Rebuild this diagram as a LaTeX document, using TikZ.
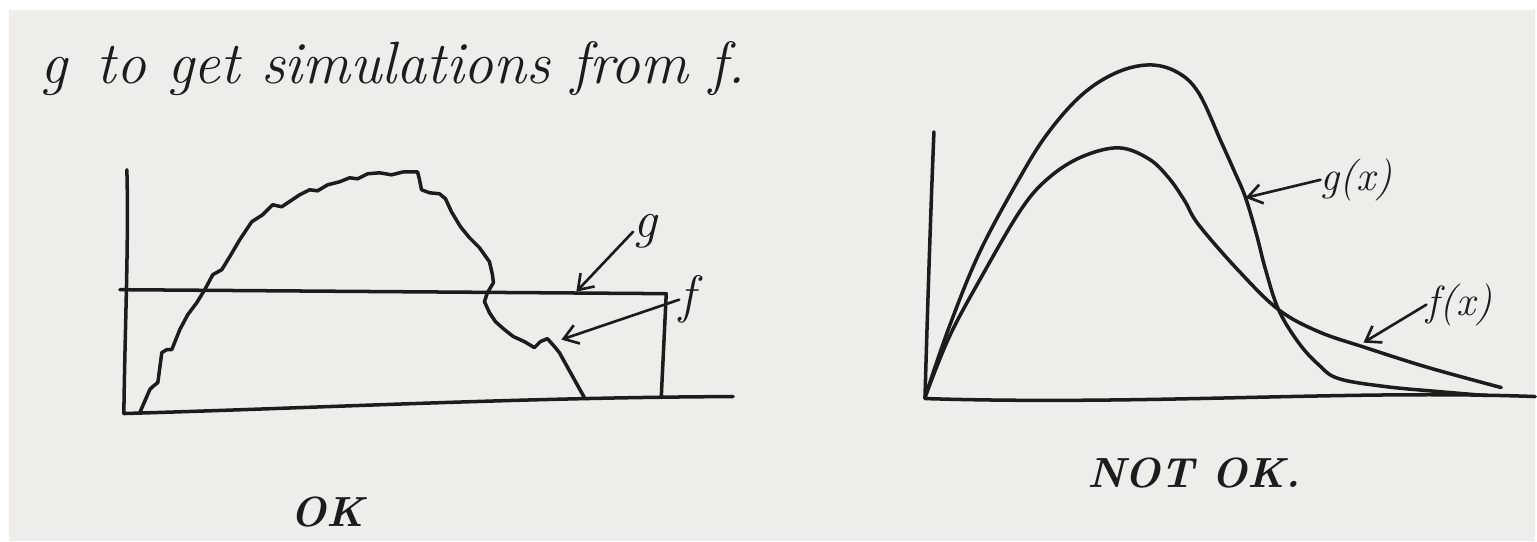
\documentclass[tikz,border=0pt]{standalone}
\usetikzlibrary{arrows.meta}

\definecolor{paper}{RGB}{239,237,233}
\definecolor{ink}{RGB}{28,28,28}

\tikzset{
  pen/.style={draw=ink, line width=2pt, line join=round, line cap=round},
  pointer/.style={draw=ink, line width=1.5pt, line cap=round,
    -{Straight Barb[length=8pt, width=11pt, line width=1.5pt]}},
  hand/.style={text=ink, inner sep=0pt, font=\itshape\fontsize{#1}{#1}\selectfont},
  hand/.default=24,
}

\begin{document}
\begin{tikzpicture}[x=0.02cm, y=-0.02cm]
% paper sheet
\fill[white] (0,0) rectangle (1537,542);
\fill[paper] (9,10) rectangle (1537,542);

% heading
\node[hand=34, anchor=base west] (heading) at (40,84) {g\hspace{0.5em}to get simulations from f.};

% ---- left sketch (OK) ----
\coordinate (lorigin) at (124,414);
\draw[pen] (127,170) .. controls (129,240) and (125,330) .. (lorigin)
  .. controls (330,408) and (520,398) .. (734,397);
% envelope g with its right edge
\draw[pen] (120,290) -- (667,294) -- (662,398);
% target f, rough hand-drawn line
\draw[pen] (140,413) -- (150,390) -- (153,387) -- (158,383) -- (162,353) -- (167,350)
  -- (172,350) -- (180,330) -- (188,315) -- (197,303) -- (205,290) -- (213,275)
  -- (222,270) -- (230,257) -- (240,240) -- (252,222) -- (263,215) -- (273,205)
  -- (282,207) -- (300,195) -- (310,190) -- (318,191) -- (328,185) -- (340,182)
  -- (350,178) -- (358,179) -- (368,174) -- (380,173) -- (392,175) -- (404,172)
  -- (418,172) -- (420,180) -- (422,190) -- (430,193) -- (440,194) -- (446,199)
  -- (452,212) -- (461,227) -- (470,238) -- (480,248) -- (490,262) -- (493,275)
  -- (494,283) -- (488,293) -- (485,302) -- (490,313) -- (496,322) -- (505,330)
  -- (514,337) -- (525,342) -- (535,348) -- (541,342) -- (548,339) -- (556,348)
  -- (560,353) -- (585,398);

\node[hand=30] (glab) at (646,232) {g};
\node[hand=30, anchor=west] (flab) at (680,300) {f};
\coordinate (gtip) at (577,292);
\coordinate (ftip) at (562,340);
\draw[pointer] (glab.west) -- (gtip);
\draw[pointer] (flab.west) -- (ftip);

\node[hand=24, font=\bfseries\itshape\fontsize{24}{24}\selectfont, anchor=base west] (ok) at (290,527) {OK};

% ---- right sketch (NOT OK) ----
\coordinate (rorigin) at (926,399);
\draw[pen] (935,132) .. controls (931,230) and (928,330) .. (rorigin)
  .. controls (1150,406) and (1350,390) .. (1537,397);
% g(x), the taller curve
\draw[pen] plot[smooth, tension=0.6] coordinates {(926,398) (950,328) (981,252)
  (1022,176) (1050,132) (1083,95) (1117,73) (1150,65) (1178,72) (1200,93)
  (1223,143) (1236,172) (1247,198) (1258,235) (1267,270) (1280,310) (1300,343)
  (1320,365) (1340,379) (1387,387) (1440,392) (1488,396)};
% f(x), with the longer tail
\draw[pen] plot[smooth, tension=0.6] coordinates {(926,398) (950,338) (981,280)
  (1022,210) (1050,178) (1083,157) (1120,148) (1150,159) (1170,178) (1186,201)
  (1200,225) (1240,271) (1280,310) (1320,332) (1367,348) (1430,368) (1503,388)};

\node[hand=24, anchor=west] (gxlab) at (1322,180) {g(x)};
\node[hand=24, anchor=west] (fxlab) at (1428,305) {f(x)};
\coordinate (gxtip) at (1247,198);
\coordinate (fxtip) at (1365,343);
\draw[pointer] (gxlab.west) -- (gxtip);
\draw[pointer] (fxlab.west) -- (fxtip);

\node[hand=24, font=\bfseries\itshape\fontsize{24}{24}\selectfont, anchor=base west] (notok) at (1088,488) {NOT OK.};
\end{tikzpicture}
\end{document}
